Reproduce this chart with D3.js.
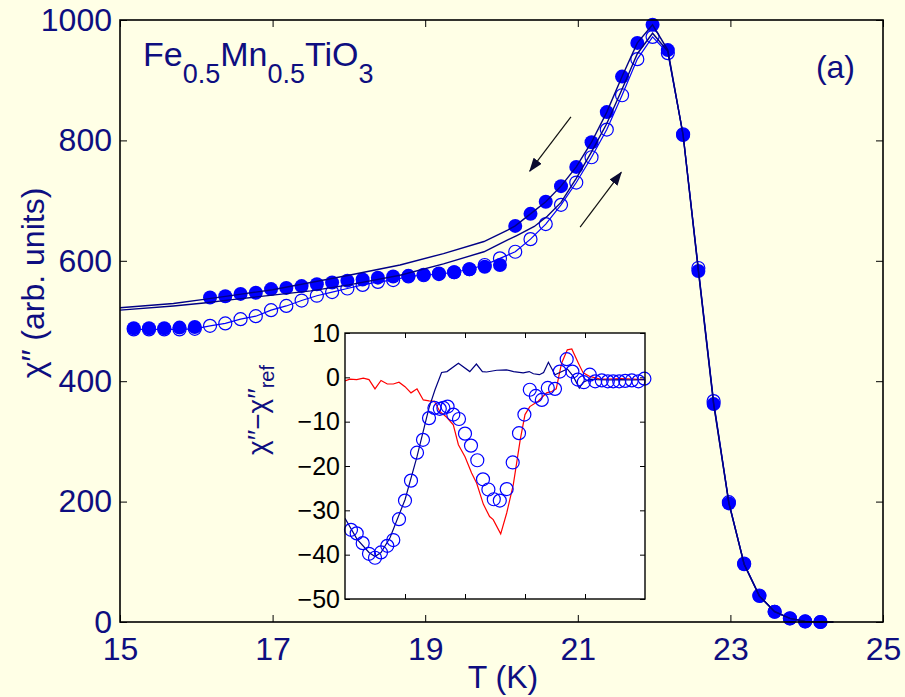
<!DOCTYPE html>
<html>
<head>
<meta charset="utf-8">
<script src="https://cdn.jsdelivr.net/npm/d3@7"></script>
<style>
  html, body { margin: 0; padding: 0; background: #ffffe6; }
  svg { display: block; font-family: "Liberation Sans", Arial, Helvetica, sans-serif; }
</style>
</head>
<body>
<svg id="chart" width="905" height="697"></svg>
<script>
// Sample temperatures (K) of the marker series
const temps = [15.18,15.38,15.58,15.78,15.98,16.18,16.38,16.58,16.78,16.98,17.18,17.38,17.58,17.78,17.98,
  18.18,18.38,18.58,18.78,18.98,19.18,19.38,19.58,19.78,19.98,20.18,20.38,20.58,20.78,20.98,
  21.18,21.38,21.58,21.78,21.98,22.18,22.38,22.58,22.78,22.98,23.18,23.38,23.58,23.78,23.98,24.18];

// χ'' on cooling (filled circles)
const coolingChi = [488,488,488,489,490,539,541,545,547,553,555,558,561,564,567,
  569,572,574,575,577,579,581,586,590,593,658,678,698,724,756,
  797,847,906,962,992,950,809,583,362,197,96,43,17,6,1,0];

// χ'' on warming (open circles)
const warmingChi = [486,486,486,486,487,492,496,503,508,518,525,534,542,548,554,
  560,565,568,574,576,578,581,586,593,604,615,636,661,693,730,
  772,818,875,935,972,945,810,588,367,199,97,44,17,6,1,0];

// Reference sweeps drawn as plain lines
const refUpperT = [15.0,15.7,16.1,16.5,17.0,17.5,18.0,18.67,19.24,19.77,20.08,20.18,20.38,20.58,20.78,20.98,
  21.18,21.38,21.58,21.78,21.98,22.18,22.38,22.58,22.78,22.98,23.18,23.38,23.58,23.78,23.98,24.18,24.35];
const refUpperChi = [522,529,536,543,552,564,576,593,612,632,651,658,678,698,724,756,
  797,847,906,962,992,950,809,583,362,197,96,43,17,6,1,0,0];

const refLowerT = [15.0,15.7,16.1,16.5,17.0,17.5,18.0,18.67,19.24,19.77,19.99,20.2,20.43,20.6,20.78,20.98,
  21.18,21.38,21.58,21.78,21.98,22.18,22.38,22.58,22.78,22.98,23.18,23.38,23.58,23.78,23.98,24.18,24.35];
const refLowerChi = [518,525,530,536,543,550,560,576,595,615,629,642,657,674,697,737,
  781,828,885,944,978,948,809,585,364,198,96,43,17,6,1,0,0];

// Main axis ticks
const xTicks = [15,17,19,21,23,25];
const yTicks = [0,200,400,600,800,1000];

// Inset: χ'' − χ''ref, sample index on the horizontal axis
const insetCircleX = [1.0,1.95,2.95,4.0,5.0,6.0,7.05,8.05,9.0,10,11,12,13,14,14.9,15.8,16.4,17.1,18.05,19,
  20,21,22.05,23.0,23.9,24.8,25.8,26.95,27.95,29,29.9,30.8,31.8,32.8,33.8,35,35.8,36.95,37.9,38.8,
  39.8,40.8,41.7,42.8,43.8,44.7,45.7,46.7,47.8,48.9,49.9];
const insetCircleY = [-34.4,-35.2,-37.4,-39.8,-40.7,-39.5,-38.0,-36.7,-32.0,-27.8,-23.3,-17.0,-14.1,-9.2,-6.9,-7.1,-6.9,-6.6,-8.4,-9.4,
  -12.7,-15.4,-18.7,-23.0,-25.3,-27.5,-27.8,-25.2,-19.2,-12.6,-8.4,-2.8,-4.2,-5.1,-2.4,-2.6,1.3,4.1,1.3,-0.5,
  -1.1,0.6,-0.9,-0.7,-0.9,-0.9,-0.9,-0.8,-0.7,-0.9,-0.3];

const insetNavyX = [0,2,4,5,6,7.5,10,12,14,15,16.1,17,18.9,20.8,21.9,22.9,23.6,25.3,26.9,28.1,29.7,30.7,31.4,
  32.4,33.1,33.9,35,35.8,37.05,38.05,39.05,39.7,40.8,42,44,46,48,50];
const insetNavyY = [-31.8,-36.5,-39.5,-40.4,-39.5,-36.2,-27.6,-17.9,-6.9,-2.8,1.1,1.3,3.2,1.3,3.0,1.3,1.2,1.6,1.7,1.3,1.0,1.3,0.8,
  0.6,1.1,3.4,0.6,1.1,1.9,0.2,-2.4,-1.1,-0.4,-0.5,-0.6,-0.5,-0.6,-0.5];

const insetRedX = [0,0.8,1.95,3.05,4.0,5.0,6.0,7.05,8.05,9.0,10,11,12,13.05,14,14.9,15.8,16.95,18.05,18.9,
  20,21.1,21.95,23.05,24.1,24.7,25.95,26.95,28.05,29.2,30,30.8,32.2,33.6,34.45,35.2,36.1,37.05,37.8,38.9,
  39.7,40.8,42.5,44,46,48,50];
const insetRedY = [-0.8,-0.4,-0.5,-0.2,-0.5,-2.6,-0.7,-1.5,-1.5,-1.1,-2.1,-3.5,-2.6,-5.1,-5.3,-5.4,-7.7,-9.0,-10.7,-15.2,
  -17.9,-21.6,-23.9,-28.6,-31.4,-32.1,-35.3,-30.6,-24.2,-14.1,-8.4,-6.6,-5.4,-3.5,-3.2,-2.6,3.2,6.2,6.4,3.2,
  1.0,0.2,-0.4,-0.4,-0.3,-0.4,-0.5];

const insetYTicks = [10,0,-10,-20,-30,-40,-50];
const insetXTicks = [10,20,30,40];

// Sweep-direction arrows, in data units (T, χ'')
const arrowCool = [[20.91,839],[20.37,749]];
const arrowWarm = [[21.03,656],[21.57,747]];

// ---------------------------------------------------------------
const navy = "#0e0e80";
const blue = "#0000ff";
const lineNavy = "#000086";

const svg = d3.select("#chart");
svg.append("rect").attr("width",905).attr("height",697).attr("fill","#ffffe6");

const x = d3.scaleLinear().domain([15,25]).range([120,883]);
const y = d3.scaleLinear().domain([0,1000]).range([622,20]);

const zip = (a,b) => a.map((v,i)=>[v,b[i]]);
const line = d3.line().x(d=>x(d[0])).y(d=>y(d[1]));

// Arrow head marker
const defs = svg.append("defs");
defs.append("marker").attr("id","head")
  .attr("viewBox","0 0 14 10").attr("refX",13).attr("refY",5)
  .attr("markerWidth",14).attr("markerHeight",10)
  .attr("markerUnits","userSpaceOnUse").attr("orient","auto")
  .append("path").attr("d","M0,0 L14,5 L0,10 Z").attr("fill","#0a0a30");

// Main frame + axes
const main = svg.append("g");

function styleAxis(g, showText, color){
  g.select(".domain").remove();
  g.selectAll(".tick line").attr("stroke","#000").attr("stroke-width",1);
  if(!showText) g.selectAll(".tick text").remove();
  else g.selectAll(".tick text").attr("fill",color).attr("font-size",null);
}

main.append("g").attr("transform","translate(0,622)")
  .call(d3.axisBottom(x).tickValues(xTicks).tickFormat(d3.format("d")).tickSizeInner(-7).tickSizeOuter(0).tickPadding(15))
  .call(g=>styleAxis(g,true,navy))
  .call(g=>g.selectAll(".tick text").attr("font-size",32).attr("font-family","Liberation Sans, Arial"));
main.append("g").attr("transform","translate(0,20)")
  .call(d3.axisTop(x).tickValues(xTicks).tickSizeInner(-7).tickSizeOuter(0))
  .call(g=>styleAxis(g,false));
main.append("g").attr("transform","translate(120,0)")
  .call(d3.axisLeft(y).tickValues(yTicks).tickFormat(d3.format("d")).tickSizeInner(-7).tickSizeOuter(0).tickPadding(8))
  .call(g=>styleAxis(g,true,navy))
  .call(g=>g.selectAll(".tick text").attr("font-size",32).attr("font-family","Liberation Sans, Arial"));
main.append("g").attr("transform","translate(883,0)")
  .call(d3.axisRight(y).tickValues(yTicks).tickSizeInner(-7).tickSizeOuter(0))
  .call(g=>styleAxis(g,false));

// Data: open circles and their line
const plot = svg.append("g");
plot.append("path").datum(zip(temps,warmingChi)).attr("d",line)
  .attr("fill","none").attr("stroke",blue).attr("stroke-width",1.2);
plot.append("g").selectAll("circle").data(zip(temps,warmingChi)).join("circle")
  .attr("cx",d=>x(d[0])).attr("cy",d=>y(d[1])).attr("r",6.5)
  .attr("fill","none").attr("stroke",blue).attr("stroke-width",1.2);

// Filled circles
plot.append("g").selectAll("circle").data(zip(temps,coolingChi)).join("circle")
  .attr("cx",d=>x(d[0])).attr("cy",d=>y(d[1])).attr("r",7)
  .attr("fill",blue);

// Reference sweeps
plot.append("path").datum(zip(refUpperT,refUpperChi)).attr("d",line)
  .attr("fill","none").attr("stroke",lineNavy).attr("stroke-width",1.4);
plot.append("path").datum(zip(refLowerT,refLowerChi)).attr("d",line)
  .attr("fill","none").attr("stroke",lineNavy).attr("stroke-width",1.4);

// Arrows
[arrowCool, arrowWarm].forEach(a=>{
  plot.append("line")
    .attr("x1",x(a[0][0])).attr("y1",y(a[0][1]))
    .attr("x2",x(a[1][0])).attr("y2",y(a[1][1]))
    .attr("stroke","#111").attr("stroke-width",1.2)
    .attr("marker-end","url(#head)");
});

// Frame
svg.append("rect").attr("x",120).attr("y",20).attr("width",763).attr("height",602)
  .attr("fill","none").attr("stroke","#000").attr("stroke-width",1.6);

// Labels
svg.append("text").attr("x",503).attr("y",688).attr("text-anchor","middle")
  .attr("font-size",32).attr("fill",navy).text("T (K)");
svg.append("text").attr("transform","translate(44,283) rotate(-90)").attr("text-anchor","middle")
  .attr("font-size",32).attr("fill",navy).text("χ′′ (arb. units)");

const title = svg.append("text").attr("x",143).attr("y",66).attr("font-size",34).attr("fill",navy);
title.append("tspan").text("Fe");
title.append("tspan").attr("dy",17).attr("font-size",27).text("0.5");
title.append("tspan").attr("dy",-17).text("Mn");
title.append("tspan").attr("dy",17).attr("font-size",27).text("0.5");
title.append("tspan").attr("dy",-17).text("TiO");
title.append("tspan").attr("dy",17).attr("font-size",27).text("3");

svg.append("text").attr("x",855).attr("y",78).attr("text-anchor","end")
  .attr("font-size",32).attr("fill",navy).text("(a)");

// ---------------------------------------------------------------
// Inset
const ix = d3.scaleLinear().domain([0,50]).range([345,645]);
const iy = d3.scaleLinear().domain([-50,10]).range([599,333]);
const iline = d3.line().x(d=>ix(d[0])).y(d=>iy(d[1]));

const inset = svg.append("g");
inset.append("rect").attr("x",345).attr("y",333).attr("width",300).attr("height",266).attr("fill","#fff");

inset.append("g").attr("transform","translate(345,0)")
  .call(d3.axisLeft(iy).tickValues(insetYTicks).tickSizeInner(-5).tickSizeOuter(0).tickPadding(5))
  .call(g=>styleAxis(g,true,"#000"))
  .call(g=>g.selectAll(".tick text").attr("font-size",25));
inset.append("g").attr("transform","translate(645,0)")
  .call(d3.axisRight(iy).tickValues(insetYTicks).tickSizeInner(-5).tickSizeOuter(0))
  .call(g=>styleAxis(g,false));
inset.append("g").attr("transform","translate(0,599)")
  .call(d3.axisBottom(ix).tickValues(insetXTicks).tickSizeInner(-5).tickSizeOuter(0))
  .call(g=>styleAxis(g,false));
inset.append("g").attr("transform","translate(0,333)")
  .call(d3.axisTop(ix).tickValues(insetXTicks).tickSizeInner(-5).tickSizeOuter(0))
  .call(g=>styleAxis(g,false));

const clip = defs.append("clipPath").attr("id","insetClip");
clip.append("rect").attr("x",345).attr("y",333).attr("width",300).attr("height",266);

const ig = inset.append("g").attr("clip-path","url(#insetClip)");
ig.append("path").datum(zip(insetRedX,insetRedY)).attr("d",iline)
  .attr("fill","none").attr("stroke","#ff0000").attr("stroke-width",1.2);
ig.append("path").datum(zip(insetNavyX,insetNavyY)).attr("d",iline)
  .attr("fill","none").attr("stroke","#000080").attr("stroke-width",1.2);
inset.append("g").selectAll("circle").data(zip(insetCircleX,insetCircleY)).join("circle")
  .attr("cx",d=>ix(d[0])).attr("cy",d=>iy(d[1])).attr("r",6.5)
  .attr("fill","none").attr("stroke",blue).attr("stroke-width",1.2);

inset.append("rect").attr("x",345).attr("y",333).attr("width",300).attr("height",266)
  .attr("fill","none").attr("stroke","#000").attr("stroke-width",1.4);

const ilab = inset.append("text").attr("transform","translate(267,410) rotate(-90)")
  .attr("text-anchor","middle").attr("font-size",28).attr("fill",navy);
ilab.append("tspan").text("χ′′−χ′′");
ilab.append("tspan").attr("dy",7).attr("font-size",20).text("ref");
</script>
</body>
</html>
